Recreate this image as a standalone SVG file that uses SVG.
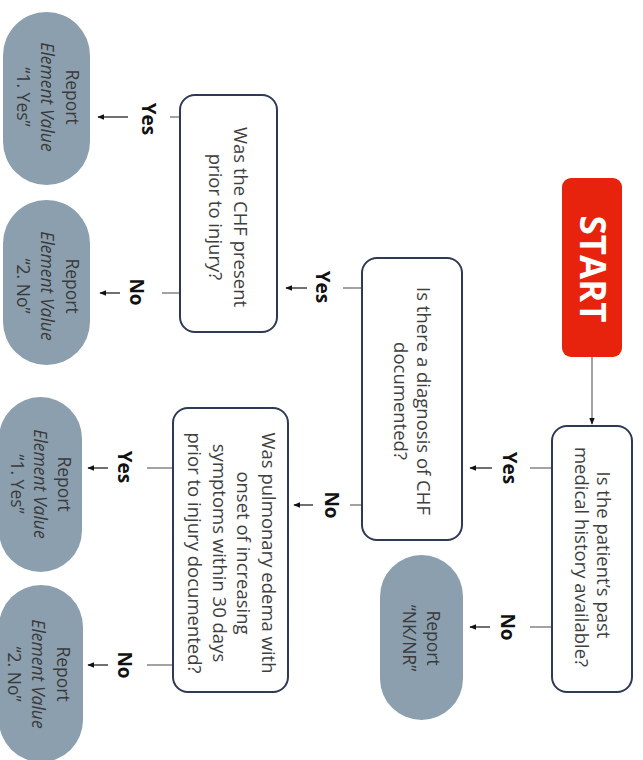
<svg xmlns="http://www.w3.org/2000/svg" width="643" height="760" viewBox="0 0 643 760">
<defs>
<style>
.box{fill:#ffffff;stroke:#2e3a55;stroke-width:2}
.pill{fill:#8b9fae;stroke:none}
.q{font-family:"Open Sans","Liberation Sans",sans-serif;font-size:18.5px;fill:#3f3f3f;text-anchor:middle}
.p{font-family:"Open Sans","Liberation Sans",sans-serif;font-size:17.5px;fill:#3a3a3a;text-anchor:middle}
.pi{font-style:italic}
.lbl{font-family:"Open Sans","Liberation Sans",sans-serif;font-size:19px;font-weight:bold;fill:#111111;text-anchor:middle}
.st{font-family:"Open Sans","Liberation Sans",sans-serif;font-size:35px;font-weight:bold;fill:#ffffff;text-anchor:middle}
.ln{stroke:#8c8c8c;stroke-width:1.6;fill:none}
.ar{stroke:#333333;stroke-width:1.4;fill:none}
</style>
<marker id="ah" viewBox="0 0 10 10" refX="9" refY="5" markerWidth="7" markerHeight="7" markerUnits="userSpaceOnUse" orient="auto">
<path d="M0,1 L10,5 L0,9 Z" fill="#111111"/>
</marker>
</defs>
<rect width="643" height="760" fill="#ffffff"/>

<g id="connectors">
<line class="ln" x1="592" y1="357" x2="592" y2="424" marker-end="url(#ah)"/>
<line class="ln" x1="552" y1="468" x2="530" y2="468"/>
<line class="ar" x1="492" y1="468" x2="470" y2="468" marker-end="url(#ah)"/>
<line class="ln" x1="552" y1="627" x2="530" y2="627"/>
<line class="ar" x1="490" y1="627" x2="470" y2="627" marker-end="url(#ah)"/>
<line class="ln" x1="362" y1="288" x2="343" y2="288"/>
<line class="ar" x1="307" y1="288" x2="286" y2="288" marker-end="url(#ah)"/>
<line class="ln" x1="362" y1="505" x2="350" y2="505"/>
<line class="ar" x1="313" y1="505" x2="294" y2="505" marker-end="url(#ah)"/>
<line class="ln" x1="180" y1="117" x2="170" y2="117"/>
<line class="ar" x1="128" y1="117" x2="98" y2="117" marker-end="url(#ah)"/>
<line class="ln" x1="180" y1="293" x2="162" y2="293"/>
<line class="ar" x1="120" y1="293" x2="100" y2="293" marker-end="url(#ah)"/>
<line class="ln" x1="173" y1="468" x2="147" y2="468"/>
<line class="ar" x1="108" y1="468" x2="88" y2="468" marker-end="url(#ah)"/>
<line class="ln" x1="173" y1="665" x2="147" y2="665"/>
<line class="ar" x1="108" y1="665" x2="88" y2="665" marker-end="url(#ah)"/>
<text class="lbl" transform="translate(503,468) rotate(90)">Yes</text>
<text class="lbl" transform="translate(501,627) rotate(90)">No</text>
<text class="lbl" transform="translate(316,287) rotate(90)">Yes</text>
<text class="lbl" transform="translate(325,505) rotate(90)">No</text>
<text class="lbl" transform="translate(142,119) rotate(90)">Yes</text>
<text class="lbl" transform="translate(130,292) rotate(90)">No</text>
<text class="lbl" transform="translate(118,467) rotate(90)">Yes</text>
<text class="lbl" transform="translate(118,665) rotate(90)">No</text>
</g>

<g id="start">
<rect x="562" y="178" width="60" height="179" rx="9" fill="#e8230d"/>
<text class="st" transform="translate(579.5,269) rotate(90)">START</text>
</g>

<g id="q1">
<rect class="box" x="552" y="426" width="80" height="266" rx="15"/>
<text class="q" transform="translate(596.5,555) rotate(90)">Is the patient’s past</text>
<text class="q" transform="translate(574.5,557) rotate(90)">medical history available?</text>
</g>

<g id="q2">
<rect class="box" x="362" y="258" width="100" height="282" rx="15"/>
<text class="q" transform="translate(416.5,401) rotate(90)">Is there a diagnosis of CHF</text>
<text class="q" transform="translate(393.5,401) rotate(90)">documented?</text>
</g>

<g id="q3">
<rect class="box" x="180" y="95" width="97" height="237" rx="15"/>
<text class="q" transform="translate(233.5,217) rotate(90)">Was the CHF present</text>
<text class="q" transform="translate(208.5,217) rotate(90)">prior to injury?</text>
</g>

<g id="q4">
<rect class="box" x="173" y="408" width="115" height="284" rx="15"/>
<text class="q" transform="translate(261.5,553) rotate(90)">Was pulmonary edema with</text>
<text class="q" transform="translate(236.5,553) rotate(90)">onset of increasing</text>
<text class="q" transform="translate(212.5,553) rotate(90)">symptoms within 30 days</text>
<text class="q" transform="translate(187.5,553) rotate(90)">prior to injury documented?</text>
</g>

<g id="r_nknr">
<rect class="pill" x="380" y="555" width="83" height="165" rx="41.5"/>
<text class="p" transform="translate(427,638) rotate(90)">Report</text>
<text class="p" transform="translate(403,638) rotate(90)">“NK/NR”</text>
</g>

<g id="r_q3_yes">
<rect class="pill" x="3" y="12" width="87" height="173" rx="43.5"/>
<text class="p" transform="translate(66,97) rotate(90)">Report</text>
<text class="p pi" transform="translate(41,97) rotate(90)">Element Value</text>
<text class="p" transform="translate(17,97) rotate(90)">“1. Yes”</text>
</g>

<g id="r_q3_no">
<rect class="pill" x="3" y="200" width="87" height="165" rx="43.5"/>
<text class="p" transform="translate(66,286) rotate(90)">Report</text>
<text class="p pi" transform="translate(41,286) rotate(90)">Element Value</text>
<text class="p" transform="translate(17,286) rotate(90)">“2. No”</text>
</g>

<g id="r_q4_yes">
<rect class="pill" x="-1" y="397" width="83" height="175" rx="41.5"/>
<text class="p" transform="translate(58,484) rotate(90)">Report</text>
<text class="p pi" transform="translate(34,484) rotate(90)">Element Value</text>
<text class="p" transform="translate(11,484) rotate(90)">“1. Yes”</text>
</g>

<g id="r_q4_no">
<rect class="pill" x="-1" y="585" width="84" height="177" rx="42"/>
<text class="p" transform="translate(57,674) rotate(90)">Report</text>
<text class="p pi" transform="translate(32,674) rotate(90)">Element Value</text>
<text class="p" transform="translate(8,674) rotate(90)">“2. No”</text>
</g>
</svg>
